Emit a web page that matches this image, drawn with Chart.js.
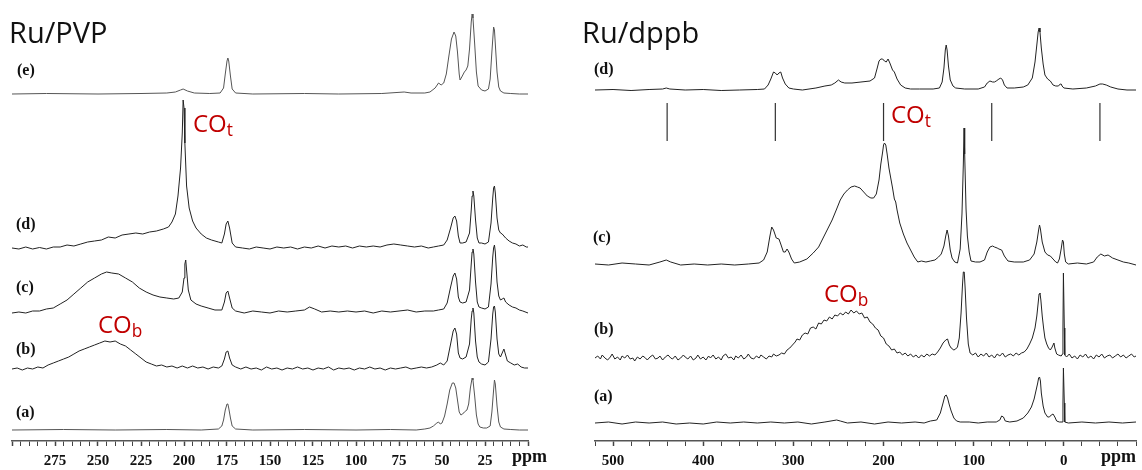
<!DOCTYPE html>
<html>
<head>
<meta charset="utf-8">
<script src="https://cdn.jsdelivr.net/npm/chart.js@4/dist/chart.umd.min.js"></script>
<style>
  body { margin: 0; background: #fff; }
  #wrap { position: relative; width: 1142px; height: 470px; overflow: hidden; }
  canvas { position: absolute; top: 0; }
  .t { position: absolute; line-height: 1; white-space: nowrap; }
  .title { font-family: "Open Sans", sans-serif; font-size: 29px; color: #111; }
  .lab { font-family: "Liberation Serif", serif; font-weight: bold; font-size: 16px; color: #111; }
  .ppm { font-family: "Liberation Serif", serif; font-weight: bold; font-size: 18px; color: #111; }
  .co { font-family: "Open Sans", sans-serif; font-size: 24px; color: #c00000; }
  .co sub { font-size: 0.72em; vertical-align: -0.22em; line-height: 0; }
</style>
</head>
<body>
<div id="wrap">
  <canvas id="pvp" width="570" height="470" style="left:0"></canvas>
  <canvas id="dppb" width="572" height="470" style="left:570px"></canvas>

  <div class="t title" style="left:9px;top:17px">Ru/PVP</div>
  <div class="t title" style="left:582px;top:17px">Ru/dppb</div>

  <div class="t lab" style="left:17px;top:62px">(e)</div>
  <div class="t lab" style="left:16px;top:216px">(d)</div>
  <div class="t lab" style="left:16px;top:279px">(c)</div>
  <div class="t lab" style="left:16px;top:341px">(b)</div>
  <div class="t lab" style="left:16px;top:404px">(a)</div>

  <div class="t lab" style="left:594px;top:61px">(d)</div>
  <div class="t lab" style="left:593px;top:229px">(c)</div>
  <div class="t lab" style="left:594px;top:321px">(b)</div>
  <div class="t lab" style="left:594px;top:388px">(a)</div>

  <div class="t co" style="left:193px;top:111px">CO<sub>t</sub></div>
  <div class="t co" style="left:891px;top:102px">CO<sub>t</sub></div>
  <div class="t co" style="left:98px;top:312px">CO<sub>b</sub></div>
  <div class="t co" style="left:824px;top:281px">CO<sub>b</sub></div>

  <div class="t ppm" style="left:512px;top:447px">ppm</div>
  <div class="t ppm" style="left:1101px;top:447px">ppm</div>
</div>

<script>
// 13C spectra, [ppm, intensity above the trace baseline]

// Ru/PVP
const pvpE = [[300,0],[280,0.5],[250,0],[225,0.5],[210,1],[205,2],[202,4],[200.5,5],[198,3],[194,1],[185,0.5],[179,1],[177,6],[176,20],[175,33],[174.5,36],[174,33],[173,18],[172,5],[170,1],[160,0],[130,0.5],[110,0],[85,0.5],[72,2],[68,1],[60,1],[57,2],[54,6],[52,11],[50.5,9],[49,11],[47.5,20],[46,38],[44.5,55],[43,62],[42,58],[41,42],[40,20],[39.5,14],[38.5,17],[37,22],[36,24],[35,28],[34,45],[33,72],[32.5,80],[32,76],[31,50],[30,22],[29,8],[27,4],[25,3],[23,5],[22,15],[21,42],[20,67],[19.5,64],[19,50],[18,22],[17,7],[16,3],[14,1],[10,0.5],[5,0],[0,0]];

const pvpD = [[300,0],[296,-1],[292,1],[288,-1],[284,0.5],[280,-1],[276,1],[272,1],[268,3],[264,2],[260,4],[256,6],[252,7],[248,8],[244,11],[240,10],[236,13],[232,14],[228,15],[224,14],[220,16],[216,17],[212,19],[209,21],[207,26],[205,34],[203.5,52],[202,80],[201,115],[200.5,148],[200,140],[199.5,105],[198.5,62],[197,40],[195,27],[193,20],[190,14],[187,10],[184,8],[180,6],[178,5],[176.5,14],[175.5,24],[174.5,27],[173.5,20],[172,5],[170,1],[166,0],[162,-1],[158,1],[154,0],[150,-1],[146,1],[142,0],[138,1],[134,-1],[130,1],[126,0],[122,2],[118,0],[114,2],[110,1],[106,2],[102,0],[98,2],[94,1],[90,2],[86,1],[82,3],[78,4],[74,3],[70,2],[66,1],[62,2],[58,0],[55,1],[52,2],[49,3],[47,8],[45,20],[43.5,30],[42.5,32],[41.5,27],[40.5,12],[39.5,5],[38,5],[36,6],[34,15],[33,38],[32.5,52],[32,57],[31.5,52],[30.5,28],[29.5,10],[28.5,5],[27,5],[25,4],[23,6],[21.5,25],[20.5,50],[20,60],[19.5,62],[19,55],[18,30],[17,18],[16,15],[15,14],[13,10],[11,7],[9,5],[7,4],[5,2],[3,3],[1,1],[0,1]];

const pvpC = [[300,-1],[296,0],[292,-1],[288,1],[284,1],[280,3],[276,4],[272,8],[268,12],[264,18],[260,24],[256,30],[252,34],[248,38],[245,40],[242,39],[238,38],[234,34],[230,30],[226,24],[222,20],[218,17],[214,15],[210,14],[206,13],[203,14],[201,20],[200,34],[199.5,48],[199,52],[198.5,42],[197.5,22],[196,12],[193,8],[190,6],[186,4],[182,2],[178,2],[176.5,10],[175.5,19],[174.5,21],[173.5,14],[172,4],[170,1],[165,-1],[160,1],[155,0],[150,-1],[145,1],[140,0],[135,1],[130,2],[127,5],[124,3],[120,0],[115,1],[110,0],[105,1],[100,0],[95,1],[90,-1],[85,1],[80,0],[75,1],[70,2],[65,0],[60,1],[55,1],[52,2],[49,3],[47,9],[45,25],[43.5,36],[42.5,39],[41.5,33],[40.5,15],[39.5,10],[38,9],[36,10],[34,22],[33,48],[32.5,60],[32,63],[31.5,58],[30.5,30],[29.5,10],[28.5,5],[27,4],[25,3],[23,5],[21.5,28],[20.5,55],[20,64],[19.5,67],[19,60],[18,30],[17,16],[16,12],[15,13],[14,14],[13,10],[11,7],[9,5],[7,4],[5,2],[3,1],[0,-1]];

const pvpB = [[300,0],[297,1],[294,-1],[291,1],[288,0],[285,2],[282,1],[279,4],[276,6],[273,8],[270,10],[267,12],[264,15],[261,18],[258,20],[255,22],[252,24],[249,26],[246,28],[243,27],[240,28],[237,25],[234,23],[231,19],[228,15],[225,11],[222,7],[219,5],[216,3],[213,4],[210,2],[207,3],[204,1],[201,3],[198,1],[195,3],[192,1],[189,2],[186,0],[183,2],[180,1],[178,3],[176.5,10],[175.5,17],[174.5,18],[173.5,11],[172,4],[170,2],[167,0],[164,2],[161,0],[158,1],[155,-1],[152,2],[149,0],[146,1],[143,-1],[140,1],[137,0],[134,2],[131,0],[128,1],[125,-1],[122,1],[119,0],[116,2],[113,-1],[110,1],[107,0],[104,1],[101,-1],[98,1],[95,0],[92,2],[89,0],[86,1],[83,-1],[80,1],[77,0],[74,1],[71,2],[68,0],[65,1],[62,2],[59,1],[56,2],[53,4],[51,6],[49,4],[47,8],[45,25],[43.5,38],[42.5,41],[41.5,35],[40.5,16],[39.5,11],[38,10],[36,12],[34,25],[33,50],[32.5,58],[32,61],[31.5,56],[30.5,28],[29.5,12],[28.5,7],[27,5],[25,4],[23,7],[21.5,30],[20.5,55],[20,62],[19.5,63],[19,57],[18,30],[17,15],[16,12],[15,16],[14,20],[13,14],[12,8],[10,6],[8,4],[6,5],[4,2],[2,1],[0,1]];

const pvpA = [[300,0],[270,0.5],[240,0],[210,0.5],[190,0],[180,1],[178,4],[177,10],[176,20],[175,26],[174.5,26],[174,22],[173,12],[172,4],[170,1],[160,0],[130,0.5],[100,0],[80,0.5],[65,0],[60,1],[57,2],[55,4],[53,7],[52,8],[51,6],[50,7],[48.5,14],[47,26],[45.5,40],[44,47],[43,47],[42,42],[41,30],[40,18],[39,15],[38,16],[37,18],[35.5,20],[34.5,26],[33.5,42],[32.5,52],[32,50],[31,34],[30,15],[29,6],[28,3],[26,2],[24,2],[22,4],[21,18],[20,40],[19.5,50],[19,46],[18,24],[17,8],[16,3],[14,1],[10,0.5],[5,0],[0,0]];

// Ru/dppb
const dppbD = [[520,0],[500,0.5],[480,-0.5],[460,0.5],[445,1],[441,2],[437,1],[420,0],[400,0.5],[380,-0.5],[360,0],[340,0.5],[332,1],[328,5],[325,11],[322,18],[320,17],[318,15],[316,17],[314,18],[312,12],[309,6],[305,2],[300,1],[290,0],[275,2],[265,4],[258,5],[254,7],[250,10],[247,8],[243,7],[235,7],[225,8],[215,9],[210,12],[207,22],[205,29],[203,31],[201,31],[199,29],[197,28],[195,31],[193,27],[190,20],[188,18],[185,11],[181,5],[176,2],[170,1],[160,1],[145,1],[138,2],[135,8],[133,22],[131.5,40],[130.5,45],[129.5,40],[128,24],[126,10],[123,4],[120,2],[110,1],[95,1],[88,3],[85,7],[82,9],[79,8],[77,8],[75,9],[72,11],[70,12],[68,10],[66,5],[63,2],[55,2],[45,3],[40,5],[35,12],[32,28],[30,45],[28.5,58],[27.5,62],[26.5,58],[25,42],[23,26],[21,15],[18,11],[15,9],[12,5],[9,4],[6,4],[4,6],[3,6],[2,4],[0,2],[-10,1],[-25,2],[-35,4],[-40,6],[-43,6],[-47,5],[-52,3],[-60,1],[-70,0],[-80,0]];

const dppbC = [[520,0],[505,-1],[490,1],[475,0],[460,-1],[448,2],[441,4],[436,2],[425,-1],[410,0],[395,-1],[380,0],[365,-1],[350,0],[338,1],[333,4],[329,12],[326,28],[324,37],[322,34],[319,26],[316,25],[314,20],[311,12],[309,12],[307,15],[305,12],[302,5],[299,1],[293,2],[285,5],[278,11],[272,17],[267,26],[262,35],[257,44],[252,55],[248,64],[244,70],[240,74],[236,77],[232,78],[229,77],[226,76],[222,72],[218,68],[214,66],[211,66],[208,70],[205,84],[203,100],[201,112],[200,119],[199,121],[197.5,119],[196,110],[194,96],[192,86],[190,76],[188,65],[186.5,62],[185,54],[182,41],[178,30],[174,21],[170,14],[166,7],[162,2],[158,3],[153,2],[148,3],[143,4],[139,7],[136,10],[133,18],[131,28],[129.5,34],[128,28],[126,14],[124,6],[121,2],[118,1],[115,15],[113,50],[111.5,100],[110.7,136],[110,110],[108.5,55],[107,28],[105,12],[103,3],[98,2],[93,2],[88,4],[85,12],[82,17],[79,18],[77,17],[74,16],[72,15],[69,14],[66,8],[62,3],[55,2],[45,2],[38,4],[33,10],[30,22],[28,34],[27,39],[26,35],[24,22],[21,12],[18,9],[15,8],[12,5],[9,2],[7,1],[5,5],[3,15],[1.5,24],[0.5,22],[-0.5,10],[-2,2],[-5,0],[-15,1],[-25,0],[-33,2],[-37,7],[-41,10],[-45,8],[-49,9],[-54,6],[-60,4],[-66,2],[-72,1],[-80,-1]];

const dppbB = [[520,0],[517,2],[514,-1],[512,3],[509,0],[506,-2],[503,1],[501,4],[498,-1],[495,1],[492,-2],[490,2],[487,0],[484,3],[481,-1],[478,0],[476,-3],[473,1],[470,-1],[467,2],[464,0],[462,-2],[459,1],[456,3],[453,-1],[450,0],[448,2],[445,-2],[442,1],[439,3],[436,0],[434,-1],[431,2],[428,-2],[425,0],[422,3],[420,1],[417,-1],[414,2],[411,-2],[408,0],[406,3],[403,-1],[400,1],[397,-2],[394,2],[392,0],[389,3],[386,-1],[383,1],[380,-2],[378,2],[375,4],[372,0],[369,1],[366,-2],[364,2],[361,0],[358,3],[355,-1],[352,1],[350,4],[347,0],[344,-1],[341,2],[338,0],[336,3],[333,1],[330,-1],[327,2],[324,1],[322,4],[319,2],[316,3],[313,5],[310,4],[307,8],[304,10],[301,13],[298,16],[296,19],[293,18],[290,23],[287,25],[284,24],[281,30],[278,31],[275,29],[272,35],[269,34],[266,38],[263,37],[260,41],[257,39],[254,43],[251,42],[248,45],[245,43],[242,46],[239,44],[236,48],[233,45],[230,47],[227,44],[224,45],[221,40],[218,41],[215,36],[212,34],[209,30],[206,28],[203,22],[200,20],[197,14],[194,12],[191,8],[188,9],[185,5],[182,6],[179,3],[176,5],[173,2],[170,4],[167,1],[164,3],[161,0],[158,3],[155,1],[152,4],[149,2],[146,4],[143,3],[140,6],[137,10],[134,15],[131,18],[129,19],[127,13],[125,10],[122,8],[120,9],[118,11],[116,20],[114,45],[112.5,72],[111.5,86],[110.5,86],[109.5,70],[108,40],[106,14],[104,5],[101,3],[98,5],[95,1],[92,4],[89,2],[86,5],[83,1],[80,3],[77,0],[74,4],[71,2],[68,5],[65,1],[62,3],[59,4],[56,2],[53,5],[50,3],[47,5],[44,6],[41,9],[38,14],[35,20],[32,30],[30,42],[28.5,55],[27.5,64],[26.5,65],[25.5,58],[24,42],[22.5,30],[21,20],[19,14],[17,10],[15,8],[13,11],[11,15],[10,10],[8,4],[6,3],[3,2],[1.5,4],[1,30],[0.5,85],[0,85],[-0.5,30],[-1,3],[-3,1],[-6,4],[-9,0],[-12,2],[-15,-1],[-18,3],[-21,1],[-24,4],[-27,0],[-30,2],[-33,-1],[-36,3],[-39,1],[-42,4],[-45,0],[-48,2],[-51,3],[-54,0],[-57,2],[-60,4],[-63,1],[-66,3],[-69,0],[-72,2],[-75,4],[-78,1],[-80,2]];

const dppbA = [[520,0],[505,1],[490,-1],[475,1],[460,0],[445,1],[430,-1],[415,0],[400,-1],[385,1],[370,0],[355,1],[340,0],[325,1],[310,0],[295,1],[280,-1],[265,1],[252,3],[248,2],[240,0],[225,1],[210,-1],[195,1],[180,0],[165,1],[155,0],[148,2],[141,3],[137,10],[134,20],[132,27],[130.5,28],[129,25],[127,18],[125,12],[122,5],[119,2],[115,1],[105,1],[95,0],[85,1],[75,1],[71,3],[69,7],[67,6],[65,2],[60,1],[52,2],[45,5],[40,10],[36,16],[33,24],[31,32],[29,40],[28,45],[27,46],[26,42],[25,30],[23,17],[21,10],[18,6],[16,6],[14,8],[12,9],[10,6],[8,2],[5,1],[2,1],[1,20],[0.5,55],[0,55],[-0.5,20],[-1,1],[-5,0],[-20,1],[-35,0],[-50,1],[-65,0],[-80,1]];

// spinning sideband markers (ppm)
const sidebands = [440, 320, 200, 80, -40];

// layout: pixel row of each trace baseline, axis row
const AXIS_Y = 441;
const pvpBase = { e: 94, d: 248, c: 312, b: 369, a: 430 };
const dppbBase = { d: 90, c: 264, b: 358, a: 423 };
const markTop = 103, markBottom = 141;

function trace(pairs, base, color) {
  return {
    data: pairs.map(p => ({ x: p[0], y: AXIS_Y - base + p[1] })),
    borderColor: color,
    borderWidth: 1,
    pointRadius: 0,
    tension: 0,
    fill: false,
    clip: false
  };
}

function opts(min, max, step, labelEvery, leftPad, rightPad) {
  return {
    responsive: false,
    animation: false,
    layout: { padding: { left: leftPad, right: rightPad, top: 0, bottom: 0 } },
    plugins: { legend: { display: false }, tooltip: { enabled: false } },
    scales: {
      x: {
        type: 'linear',
        reverse: true,
        min: min, max: max,
        afterFit: s => { s.height = 470 - AXIS_Y; },
        border: { display: true, color: '#555', width: 1.5 },
        grid: { drawOnChartArea: false, tickLength: 5, tickColor: '#444',
                tickWidth: c => (c.tick && c.tick.value % labelEvery === 0) ? 1.5 : 1 },
        ticks: {
          stepSize: step, autoSkip: false, maxRotation: 0, padding: 6,
          color: '#111',
          font: { family: 'Liberation Serif', weight: 'bold', size: 15 },
          callback: v => (v % labelEvery === 0 && v > 0 - 1e-9 && v < max - step / 2 && !(min === 0 && v === 0)) ? String(v) : ''
        }
      },
      y: { display: false, min: 0, max: AXIS_Y }
    }
  };
}

const dark = '#222';
const light = '#555';

new Chart(document.getElementById('pvp'), {
  type: 'line',
  data: { datasets: [
    trace(pvpE, pvpBase.e, light),
    trace(pvpD, pvpBase.d, dark),
    trace(pvpC, pvpBase.c, dark),
    trace(pvpB, pvpBase.b, dark),
    trace(pvpA, pvpBase.a, light)
  ] },
  options: opts(0, 300, 5, 25, 12, 42)
});

const markData = [];
sidebands.forEach(s => {
  markData.push({ x: s, y: AXIS_Y - markTop }, { x: s, y: AXIS_Y - markBottom }, { x: s, y: null });
});

new Chart(document.getElementById('dppb'), {
  type: 'line',
  data: { datasets: [
    trace(dppbD, dppbBase.d, dark),
    trace(dppbC, dppbBase.c, dark),
    trace(dppbB, dppbBase.b, dark),
    trace(dppbA, dppbBase.a, dark),
    { data: markData, borderColor: '#333', borderWidth: 1.2, pointRadius: 0, spanGaps: false, clip: false }
  ] },
  options: opts(-80, 520, 20, 100, 25, 0)
});
</script>
</body>
</html>
